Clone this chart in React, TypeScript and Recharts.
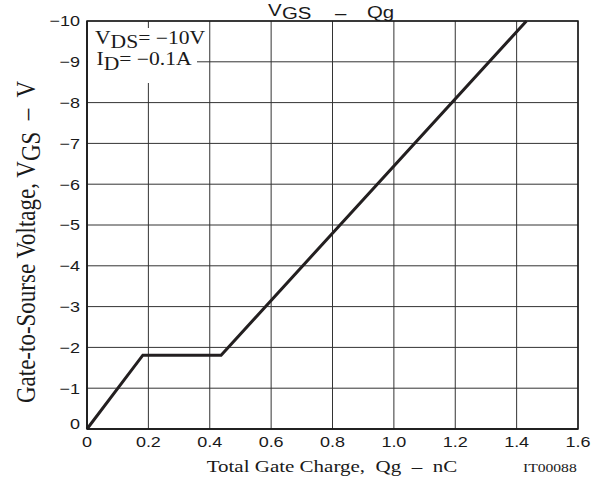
import React from 'react';
import { LineChart, Line, XAxis, YAxis, CartesianGrid, ReferenceArea, Customized } from 'recharts';

const qgValues = [0, 0.182, 0.437, 1.432];
const vgsValues = [0, -1.81, -1.81, -10];
const xTicks = [0, 0.2, 0.4, 0.6, 0.8, 1.0, 1.2, 1.4, 1.6];
const xTickLabels = ['0', '0.2', '0.4', '0.6', '0.8', '1.0', '1.2', '1.4', '1.6'];
const yTicks = [0, -1, -2, -3, -4, -5, -6, -7, -8, -9, -10];
const yTickLabels = ['0', '−1', '−2', '−3', '−4', '−5', '−6', '−7', '−8', '−9', '−10'];

const data = qgValues.map((q, i) => ({ qg: q, vgs: vgsValues[i] }));

const SANS = "'Liberation Sans', Arial, Helvetica, sans-serif";
const SERIF = "'Liberation Serif', 'Times New Roman', Times, serif";
const SX = 1.2;
const INK = '#1a1a1a';

const findIdx = (arr: number[], v: number) => arr.findIndex((t) => Math.abs(t - v) < 1e-9);

const XTick = (props: any) => {
  const { x, y, payload } = props;
  const i = findIdx(xTicks, payload.value);
  return (
    <g transform={`translate(${x},${y + 17.5}) scale(${SX},1)`}>
      <text x={0} y={0} textAnchor="middle" fontFamily={SANS} fontSize={15} fill={INK}>
        {i >= 0 ? xTickLabels[i] : ''}
      </text>
    </g>
  );
};

const YTick = (props: any) => {
  const { x, y, payload } = props;
  const i = findIdx(yTicks, payload.value);
  const shift = payload.value === 0 ? -5.5 : 0;
  return (
    <g transform={`translate(${x},${y + 5.3 + shift}) scale(${SX},1)`}>
      <text x={0} y={0} textAnchor="end" fontFamily={SANS} fontSize={15} fill={INK}>
        {i >= 0 ? yTickLabels[i] : ''}
      </text>
    </g>
  );
};

const ST = ({ x, y, size, family, anchor = 'start', children }: any) => (
  <g transform={`translate(${x},${y}) scale(${SX},1)`}>
    <text x={0} y={0} fontSize={size} fontFamily={family} textAnchor={anchor} fill={INK} style={{ whiteSpace: 'pre' }}>
      {children}
    </text>
  </g>
);

const Overlay = () => (
  <g>
    {/* title */}
    <ST x={268} y={15.8} size={17} family={SANS}>V</ST>
    <ST x={282} y={18.5} size={17} family={SANS}>GS</ST>
    <ST x={335} y={19} size={17} family={SANS}>–</ST>
    <ST x={367} y={18} size={17} family={SANS}>Qg</ST>
    {/* condition box */}
    <rect x={88} y={28} width={109} height={55} fill="#ffffff" />
    <ST x={95} y={43.7} size={18} family={SERIF}>
      V<tspan dy={4.3}>DS</tspan>
      <tspan dy={-4.3}>= −10V</tspan>
    </ST>
    <ST x={96.5} y={65.3} size={18} family={SERIF}>
      I<tspan dy={4.7}>D</tspan>
      <tspan dy={-4.7}>= −0.1A</tspan>
    </ST>
    {/* x axis label */}
    <ST x={206.7} y={472} size={17.5} family={SERIF}>Total Gate Charge,  Qg  –  nC</ST>
    <ST x={523} y={472} size={13} family={SERIF}>IT00088</ST>
    {/* y axis label */}
    <g transform={`translate(35,242) scale(${SX},1) rotate(-90)`}>
      <text x={0} y={0} fontSize={23} fontFamily={SERIF} textAnchor="middle" fill={INK} style={{ whiteSpace: 'pre' }}>
        Gate-to-Sourse Voltage, V<tspan dy={4}>GS</tspan>
        <tspan dy={-4}>  –  V</tspan>
      </text>
    </g>
  </g>
);

export default function App() {
  return (
    <div style={{ position: 'absolute', left: 0, top: 0, width: 603, height: 477, background: '#fff' }}>
      <LineChart width={603} height={477} data={data} margin={{ top: 21, right: 25, bottom: 0, left: 0 }}>
        <CartesianGrid stroke="#333" strokeWidth={1} />
        <XAxis
          dataKey="qg"
          type="number"
          domain={[0, 1.6]}
          ticks={xTicks}
          interval={0}
          height={48}
          tickSize={0}
          tickMargin={0}
          tickLine={false}
          axisLine={{ stroke: INK, strokeWidth: 1.5 }}
          tick={<XTick />}
        />
        <YAxis
          type="number"
          domain={[-10, 0]}
          reversed
          ticks={yTicks}
          interval={0}
          width={87}
          tickSize={0}
          tickMargin={7}
          tickLine={false}
          axisLine={{ stroke: INK, strokeWidth: 1.5 }}
          tick={<YTick />}
        />
        <ReferenceArea x1={0} x2={1.6} y1={-10} y2={0} fill="none" stroke={INK} strokeWidth={1.5} ifOverflow="visible" />
        <Customized component={Overlay} />
        <Line
          type="linear"
          dataKey="vgs"
          stroke="#231f20"
          strokeWidth={3}
          dot={false}
          isAnimationActive={false}
        />
      </LineChart>
    </div>
  );
}
